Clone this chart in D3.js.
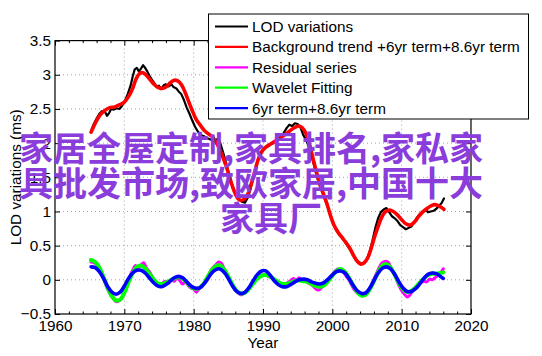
<!DOCTYPE html>
<html><head><meta charset="utf-8">
<script src="https://cdn.jsdelivr.net/npm/d3@7"></script>
<style>
html,body{margin:0;padding:0;background:#fff;}
svg{display:block;}
</style></head>
<body><svg id="chart" width="542" height="356"></svg>
<script>
// ---------- data ----------
const xTicks = [1960, 1970, 1980, 1990, 2000, 2010, 2020];
const yTicks = [-0.5, 0, 0.5, 1, 1.5, 2, 2.5, 3, 3.5];
const yTickLabels = ["\u22120.5", "0", "0.5", "1", "1.5", "2", "2.5", "3", "3.5"];
const seriesNames = ["LOD variations", "Background trend +6yr term+8.6yr term", "Residual series", "Wavelet Fitting", "6yr term+8.6yr term"];
const seriesColors = ["#000000", "#ff0000", "#ff00ff", "#00ff00", "#0000ff"];

const lodData = [[1965.2,2.18],[1965.6,2.28],[1966.0,2.36],[1966.4,2.43],[1966.8,2.47],[1967.2,2.46],[1967.5,2.40],[1967.8,2.44],[1968.1,2.50],[1968.5,2.49],[1968.9,2.51],[1969.3,2.50],[1969.7,2.55],[1970.1,2.62],[1970.5,2.72],[1970.9,2.84],[1971.2,2.97],[1971.5,3.08],[1971.8,3.10],[1972.1,3.05],[1972.4,3.09],[1972.7,3.14],[1973.0,3.10],[1973.3,3.05],[1973.6,2.99],[1973.9,2.94],[1974.3,2.88],[1974.7,2.82],[1975.0,2.84],[1975.3,2.79],[1975.7,2.85],[1976.0,2.86],[1976.4,2.83],[1976.8,2.86],[1977.1,2.82],[1977.5,2.80],[1977.8,2.76],[1978.2,2.72],[1978.6,2.63],[1979.0,2.52],[1979.4,2.43],[1979.8,2.33],[1980.2,2.24],[1980.6,2.17],[1981.0,2.12],[1981.5,2.10],[1982.0,2.07],[1982.5,2.05],[1983.0,2.03],[1983.4,2.06],[1983.8,2.01],[1984.2,1.88],[1984.6,1.74],[1985.0,1.58],[1985.4,1.44],[1985.8,1.32],[1986.2,1.24],[1986.6,1.18],[1987.0,1.14],[1987.4,1.13],[1987.8,1.20],[1988.2,1.33],[1988.6,1.50],[1989.0,1.66],[1989.4,1.80],[1989.8,1.88],[1990.2,1.92],[1990.6,1.95],[1991.0,1.98],[1991.5,2.00],[1992.0,2.03],[1992.5,2.08],[1993.0,2.15],[1993.4,2.22],[1993.8,2.27],[1994.2,2.25],[1994.6,2.29],[1995.0,2.28],[1995.4,2.23],[1995.8,2.12],[1996.2,2.05],[1996.6,1.95],[1997.0,1.82],[1997.4,1.66],[1997.8,1.50],[1998.2,1.38],[1998.6,1.27],[1999.0,1.16],[1999.4,1.05],[1999.8,0.92],[2000.2,0.80],[2000.6,0.72],[2001.0,0.66],[2001.5,0.60],[2002.0,0.53],[2002.5,0.45],[2003.0,0.36],[2003.4,0.30],[2003.8,0.26],[2004.2,0.24],[2004.6,0.25],[2005.0,0.30],[2005.4,0.42],[2005.8,0.58],[2006.2,0.76],[2006.6,0.90],[2007.0,0.99],[2007.4,1.03],[2007.8,1.05],[2008.2,0.99],[2008.6,0.93],[2009.0,0.90],[2009.4,0.86],[2009.8,0.80],[2010.2,0.77],[2010.6,0.74],[2011.0,0.76],[2011.4,0.78],[2011.8,0.84],[2012.2,0.91],[2012.6,0.96],[2013.0,0.99],[2013.4,1.03],[2013.8,0.99],[2014.2,1.00],[2014.6,1.01],[2015.0,1.04],[2015.4,1.08],[2015.8,1.13],[2016.1,1.19]];

const trendData = [[1965.2,2.16],[1966.0,2.33],[1966.5,2.41],[1967.2,2.48],[1967.9,2.52],[1968.6,2.53],[1969.3,2.56],[1970.0,2.60],[1970.6,2.68],[1971.2,2.80],[1971.7,2.94],[1972.2,3.02],[1972.7,3.03],[1973.2,2.99],[1973.7,2.93],[1974.2,2.87],[1974.8,2.82],[1975.4,2.80],[1976.0,2.82],[1976.6,2.88],[1977.2,2.92],[1977.7,2.91],[1978.2,2.86],[1978.7,2.76],[1979.2,2.63],[1979.7,2.50],[1980.3,2.36],[1980.9,2.27],[1981.5,2.19],[1982.2,2.13],[1982.8,2.08],[1983.3,2.00],[1983.8,1.90],[1984.3,1.77],[1984.8,1.63],[1985.3,1.46],[1985.8,1.31],[1986.3,1.20],[1986.8,1.16],[1987.3,1.18],[1987.8,1.25],[1988.3,1.40],[1988.8,1.58],[1989.3,1.76],[1989.8,1.87],[1990.4,1.94],[1991.0,1.98],[1991.6,2.02],[1992.2,2.06],[1992.8,2.10],[1993.4,2.14],[1994.0,2.19],[1994.6,2.23],[1995.2,2.25],[1995.7,2.22],[1996.2,2.14],[1996.7,1.98],[1997.2,1.78],[1997.7,1.58],[1998.2,1.40],[1998.7,1.26],[1999.2,1.12],[1999.7,0.95],[2000.2,0.81],[2000.8,0.70],[2001.4,0.62],[2002.0,0.54],[2002.6,0.45],[2003.1,0.35],[2003.6,0.27],[2004.1,0.23],[2004.6,0.25],[2005.1,0.32],[2005.6,0.46],[2006.1,0.63],[2006.6,0.78],[2007.1,0.91],[2007.6,0.99],[2008.2,1.02],[2008.8,1.00],[2009.4,0.95],[2010.0,0.88],[2010.6,0.82],[2011.2,0.80],[2011.8,0.84],[2012.4,0.92],[2013.0,0.99],[2013.6,1.04],[2014.2,1.08],[2014.7,1.10],[2015.2,1.09],[2015.7,1.06],[2016.1,1.03]];

const residualData = [[1965.2,0.26],[1965.6,0.25],[1966.0,0.22],[1966.4,0.14],[1966.8,0.06],[1967.2,-0.04],[1967.6,-0.14],[1968.0,-0.22],[1968.4,-0.27],[1968.8,-0.32],[1969.2,-0.31],[1969.6,-0.27],[1970.0,-0.18],[1970.4,-0.07],[1970.8,0.05],[1971.2,0.14],[1971.6,0.21],[1972.0,0.18],[1972.4,0.22],[1972.8,0.25],[1973.2,0.17],[1973.6,0.12],[1974.0,0.05],[1974.4,-0.02],[1974.8,-0.06],[1975.2,-0.08],[1975.6,-0.04],[1976.0,-0.02],[1976.4,-0.05],[1976.8,0.01],[1977.2,-0.02],[1977.6,0.03],[1978.0,-0.01],[1978.4,-0.06],[1978.8,-0.03],[1979.2,-0.08],[1979.6,-0.12],[1980.0,-0.14],[1980.4,-0.18],[1980.8,-0.13],[1981.2,-0.10],[1981.6,-0.03],[1982.0,0.04],[1982.4,0.12],[1982.8,0.18],[1983.2,0.22],[1983.6,0.26],[1984.0,0.24],[1984.4,0.16],[1984.8,0.08],[1985.2,-0.02],[1985.6,-0.08],[1986.0,-0.15],[1986.4,-0.19],[1986.8,-0.22],[1987.2,-0.20],[1987.6,-0.17],[1988.0,-0.12],[1988.4,-0.06],[1988.8,0.00],[1989.2,0.04],[1989.6,0.06],[1990.0,0.07],[1990.4,0.08],[1990.8,0.05],[1991.2,0.03],[1991.6,0.00],[1992.0,-0.04],[1992.4,-0.06],[1992.8,-0.08],[1993.2,-0.06],[1993.6,-0.04],[1994.0,-0.01],[1994.4,0.02],[1994.8,-0.01],[1995.2,0.03],[1995.6,-0.01],[1996.0,0.01],[1996.4,-0.04],[1996.8,-0.06],[1997.2,-0.09],[1997.6,-0.13],[1998.0,-0.15],[1998.4,-0.12],[1998.8,-0.07],[1999.2,-0.03],[1999.6,0.03],[2000.0,0.08],[2000.4,0.13],[2000.8,0.16],[2001.2,0.14],[2001.6,0.12],[2002.0,0.05],[2002.4,0.00],[2002.8,-0.08],[2003.2,-0.15],[2003.6,-0.19],[2004.0,-0.22],[2004.4,-0.23],[2004.8,-0.21],[2005.2,-0.16],[2005.6,-0.08],[2006.0,0.01],[2006.4,0.10],[2006.8,0.19],[2007.2,0.25],[2007.6,0.27],[2008.0,0.26],[2008.4,0.19],[2008.8,0.11],[2009.2,0.02],[2009.6,-0.08],[2010.0,-0.16],[2010.4,-0.21],[2010.8,-0.25],[2011.2,-0.22],[2011.6,-0.16],[2012.0,-0.11],[2012.4,-0.07],[2012.8,-0.04],[2013.2,-0.02],[2013.6,-0.03],[2014.0,0.01],[2014.4,0.00],[2014.8,0.03],[2015.2,0.06],[2015.6,0.10],[2016.0,0.16]];

const waveletData = [[1965.2,0.29],[1965.8,0.26],[1966.4,0.18],[1967.0,0.04],[1967.6,-0.12],[1968.2,-0.24],[1968.8,-0.30],[1969.4,-0.29],[1970.0,-0.19],[1970.6,-0.04],[1971.2,0.10],[1971.8,0.19],[1972.4,0.21],[1973.0,0.17],[1973.6,0.09],[1974.2,0.01],[1974.8,-0.05],[1975.4,-0.06],[1976.0,-0.04],[1976.6,-0.01],[1977.2,0.02],[1977.8,0.04],[1978.4,0.02],[1979.0,-0.04],[1979.6,-0.10],[1980.2,-0.13],[1980.8,-0.12],[1981.4,-0.06],[1982.0,0.04],[1982.6,0.14],[1983.2,0.20],[1983.8,0.21],[1984.4,0.15],[1985.0,0.05],[1985.6,-0.07],[1986.2,-0.16],[1986.8,-0.20],[1987.4,-0.19],[1988.0,-0.13],[1988.6,-0.05],[1989.2,0.02],[1989.8,0.06],[1990.4,0.07],[1991.0,0.05],[1991.6,0.01],[1992.2,-0.03],[1992.8,-0.06],[1993.4,-0.06],[1994.0,-0.04],[1994.6,-0.02],[1995.2,-0.01],[1995.8,-0.02],[1996.4,-0.03],[1997.0,-0.06],[1997.6,-0.09],[1998.2,-0.10],[1998.8,-0.08],[1999.4,-0.02],[2000.0,0.06],[2000.6,0.13],[2001.2,0.16],[2001.8,0.12],[2002.4,0.03],[2003.0,-0.08],[2003.6,-0.18],[2004.2,-0.23],[2004.8,-0.22],[2005.4,-0.14],[2006.0,-0.02],[2006.6,0.11],[2007.2,0.21],[2007.8,0.23],[2008.4,0.18],[2009.0,0.07],[2009.6,-0.05],[2010.2,-0.14],[2010.8,-0.18],[2011.4,-0.16],[2012.0,-0.11],[2012.6,-0.04],[2013.2,0.02],[2013.8,0.07],[2014.4,0.09],[2015.0,0.09],[2015.6,0.10],[2016.0,0.11]];

const termData = [[1965.2,0.19],[1965.8,0.18],[1966.4,0.12],[1967.0,0.02],[1967.6,-0.10],[1968.2,-0.18],[1968.8,-0.21],[1969.4,-0.18],[1970.0,-0.09],[1970.6,0.02],[1971.2,0.10],[1971.8,0.14],[1972.4,0.14],[1973.0,0.10],[1973.6,0.03],[1974.2,-0.04],[1974.8,-0.09],[1975.4,-0.10],[1976.0,-0.07],[1976.6,-0.02],[1977.2,0.03],[1977.8,0.05],[1978.4,0.03],[1979.0,-0.03],[1979.6,-0.09],[1980.2,-0.12],[1980.8,-0.12],[1981.4,-0.07],[1982.0,0.01],[1982.6,0.10],[1983.2,0.15],[1983.8,0.16],[1984.4,0.11],[1985.0,0.02],[1985.6,-0.09],[1986.2,-0.17],[1986.8,-0.20],[1987.4,-0.18],[1988.0,-0.11],[1988.6,-0.01],[1989.2,0.08],[1989.8,0.13],[1990.4,0.13],[1991.0,0.07],[1991.6,-0.01],[1992.2,-0.07],[1992.8,-0.10],[1993.4,-0.10],[1994.0,-0.07],[1994.6,-0.03],[1995.2,0.00],[1995.8,0.01],[1996.4,0.00],[1997.0,-0.03],[1997.6,-0.05],[1998.2,-0.06],[1998.8,-0.04],[1999.4,0.01],[2000.0,0.07],[2000.6,0.12],[2001.2,0.13],[2001.8,0.10],[2002.4,0.02],[2003.0,-0.08],[2003.6,-0.16],[2004.2,-0.20],[2004.8,-0.19],[2005.4,-0.12],[2006.0,-0.01],[2006.6,0.10],[2007.2,0.17],[2007.8,0.19],[2008.4,0.16],[2009.0,0.08],[2009.6,-0.03],[2010.2,-0.12],[2010.8,-0.17],[2011.4,-0.17],[2012.0,-0.13],[2012.6,-0.06],[2013.2,0.02],[2013.8,0.08],[2014.4,0.10],[2015.0,0.09],[2015.6,0.05],[2016.0,0.02]];

const watermarkLines = ["家居全屋定制,家具排名,家私家", "具批发市场,致欧家居,中国十大", "家具厂"];

// ---------- layout ----------
const W = 542, H = 356;
const m = {left: 55, right: 71, top: 40.6, bottom: 42};
const pw = W - m.left - m.right, ph = H - m.top - m.bottom;
const FONT = "'Liberation Sans', Arial, Helvetica, sans-serif";
const FS = 15.3;

const svg = d3.select("#chart");
const g = svg.append("g").attr("transform", `translate(${m.left},${m.top})`);

const x = d3.scaleLinear().domain([1960, 2020]).range([0, pw]);
const y = d3.scaleLinear().domain([-0.5, 3.5]).range([ph, 0]);

// grid
const grid = g.append("g");
xTicks.slice(1, -1).forEach(t => {
  grid.append("line").attr("x1", x(t)).attr("x2", x(t)).attr("y1", 0).attr("y2", ph)
    .attr("stroke", "#8c8c8c").attr("stroke-width", 0.8).attr("stroke-dasharray", "1,3");
});
yTicks.slice(1, -1).forEach(t => {
  grid.append("line").attr("x1", 0).attr("x2", pw).attr("y1", y(t)).attr("y2", y(t))
    .attr("stroke", "#8c8c8c").attr("stroke-width", 0.8).attr("stroke-dasharray", "1,3");
});

// series
const lineSmooth = d3.line().x(d => x(d[0])).y(d => y(d[1])).curve(d3.curveCatmullRom.alpha(0.5));
const lineRaw = d3.line().x(d => x(d[0])).y(d => y(d[1]));
const series = [
  {data: lodData, gen: lineRaw, color: seriesColors[0], w: 2.2},
  {data: trendData, gen: lineSmooth, color: seriesColors[1], w: 3.6},
  {data: residualData, gen: lineSmooth, color: seriesColors[2], w: 3},
  {data: waveletData, gen: lineSmooth, color: seriesColors[3], w: 4},
  {data: termData, gen: lineSmooth, color: seriesColors[4], w: 3.6}
];
series.forEach(s => {
  g.append("path").datum(s.data).attr("d", s.gen).attr("fill", "none")
    .attr("stroke", s.color).attr("stroke-width", s.w)
    .attr("stroke-linejoin", "round").attr("stroke-linecap", "round");
});

// axes box
g.append("rect").attr("x", 0).attr("y", 0).attr("width", pw).attr("height", ph)
  .attr("fill", "none").attr("stroke", "#000").attr("stroke-width", 1.2);

// axes
const xAxis = d3.axisBottom(x).tickValues(xTicks).tickSize(-5).tickPadding(6).tickFormat(d3.format("d"));
const xAxisG = g.append("g").attr("transform", `translate(0,${ph})`).call(xAxis);
const yAxis = d3.axisLeft(y).tickValues(yTicks).tickSize(-5).tickPadding(4).tickFormat((d, i) => yTickLabels[i]);
const yAxisG = g.append("g").call(yAxis);
[xAxisG, yAxisG].forEach(a => {
  a.select(".domain").remove();
  a.selectAll("text").attr("font-family", FONT).attr("font-size", FS).attr("fill", "#000");
  a.selectAll("line").attr("stroke", "#000");
});
// mirrored ticks top/right
const xTop = d3.axisTop(x).tickValues(xTicks).tickSize(-5).tickFormat("");
g.append("g").call(xTop).call(a => a.select(".domain").remove());
const yRight = d3.axisRight(y).tickValues(yTicks).tickSize(-5).tickFormat("");
g.append("g").attr("transform", `translate(${pw},0)`).call(yRight).call(a => a.select(".domain").remove());
// minor x ticks
const minor = d3.range(1962, 2020, 2).filter(v => v % 10 !== 0);
g.append("g").attr("transform", `translate(0,${ph})`)
  .call(d3.axisBottom(x).tickValues(minor).tickSize(-2.5).tickFormat(""))
  .call(a => a.select(".domain").remove());
g.append("g")
  .call(d3.axisTop(x).tickValues(minor).tickSize(-2.5).tickFormat(""))
  .call(a => a.select(".domain").remove());

// labels
svg.append("text").attr("x", m.left + pw / 2).attr("y", 348).attr("text-anchor", "middle")
  .attr("font-family", FONT).attr("font-size", FS).text("Year");
svg.append("text").attr("transform", `translate(21,${m.top + ph / 2}) rotate(-90)`)
  .attr("text-anchor", "middle").attr("font-family", FONT).attr("font-size", FS).text("LOD variations (ms)");

// legend
const lg = svg.append("g");
lg.append("rect").attr("x", 208.5).attr("y", 14).attr("width", 320).attr("height", 105)
  .attr("fill", "#fff").attr("stroke", "#000").attr("stroke-width", 1);
seriesNames.forEach((name, i) => {
  const ly = 26.5 + i * 20.4;
  lg.append("line").attr("x1", 215).attr("x2", 248).attr("y1", ly).attr("y2", ly)
    .attr("stroke", seriesColors[i]).attr("stroke-width", 2.2);
  lg.append("text").attr("x", 252).attr("y", ly + 5.4).attr("font-family", FONT)
    .attr("font-size", FS).text(name);
});

// watermark overlay
const wmX = [251, 251, 271], wmY = [146, 181, 216.5];
watermarkLines.forEach((t, i) => {
  svg.append("text").attr("x", wmX[i]).attr("y", wmY[i]).attr("text-anchor", "middle")
    .attr("dominant-baseline", "central")
    .attr("font-family", "'Noto Sans CJK SC', sans-serif").attr("font-weight", 700)
    .attr("font-size", 34).attr("fill", "#8a3ddb").text(t);
});
</script>
</body></html>
